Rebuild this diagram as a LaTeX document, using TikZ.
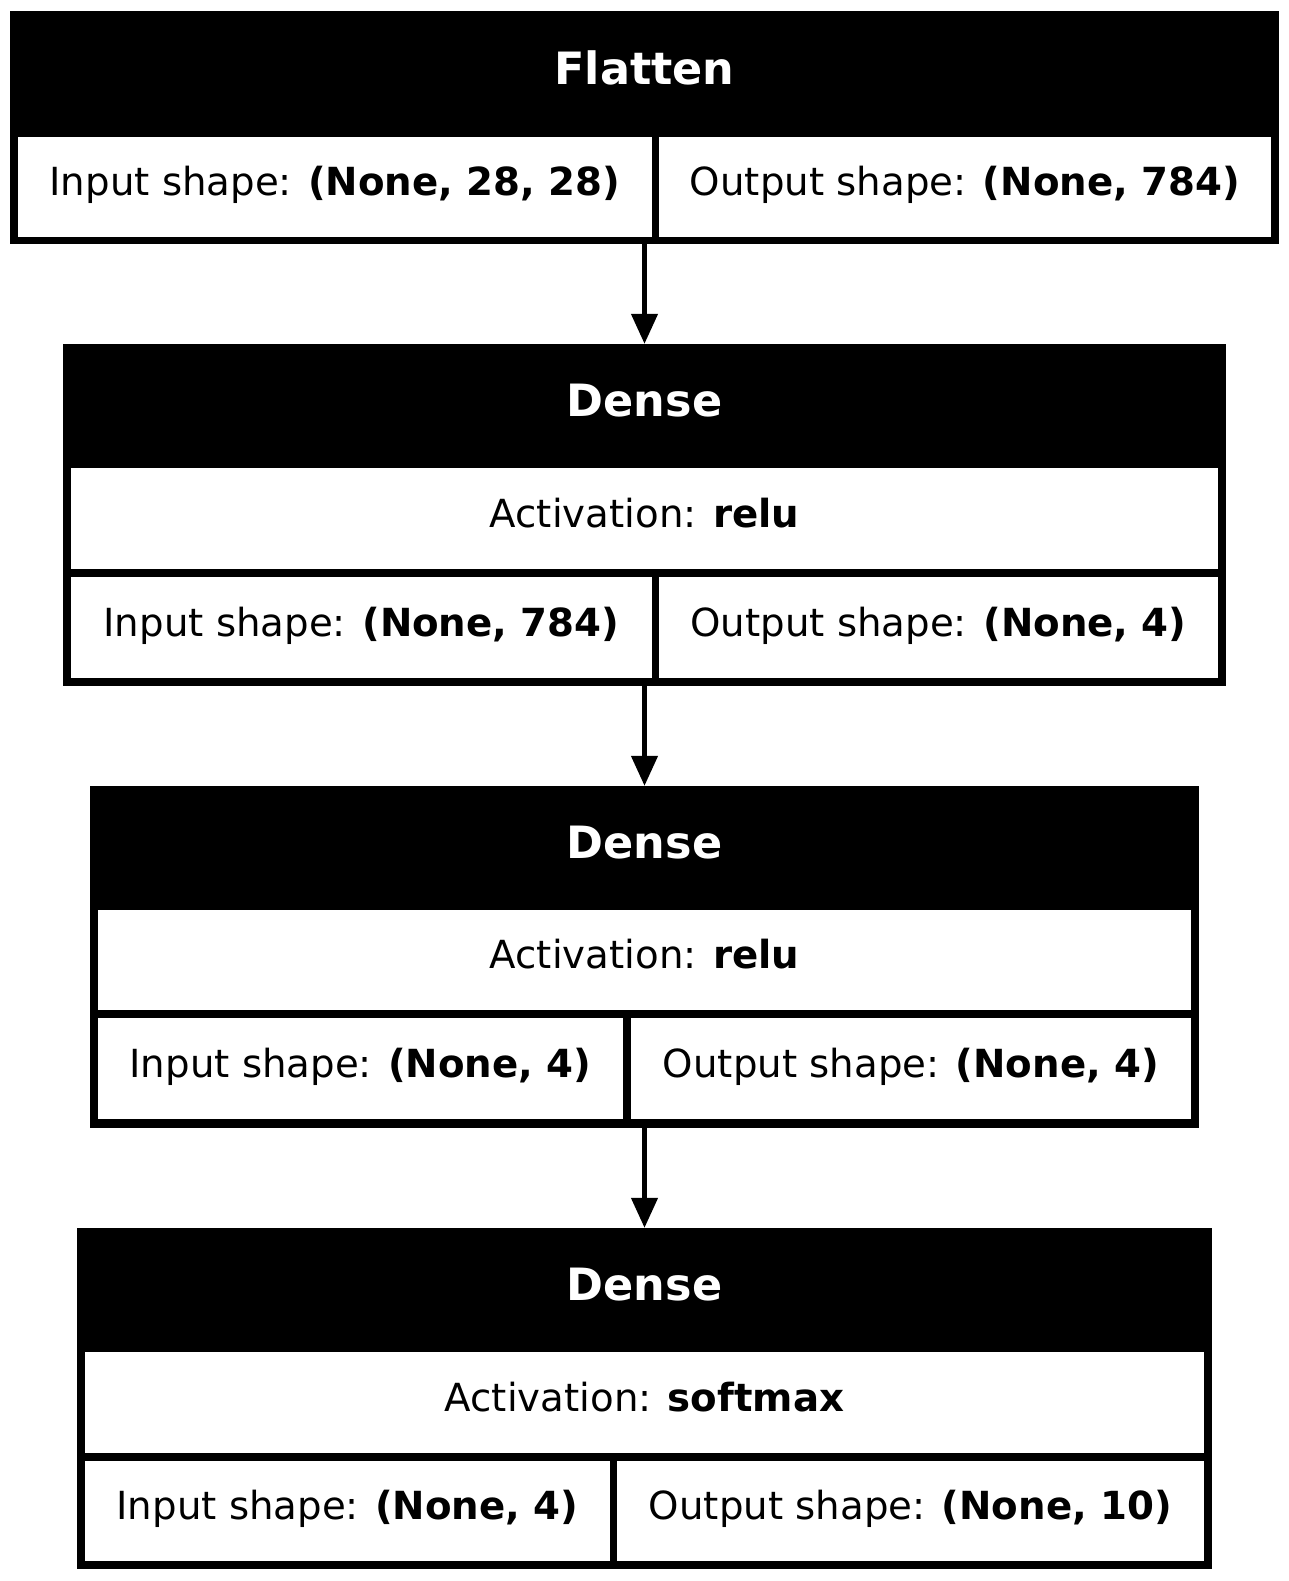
\documentclass[tikz,border=0pt]{standalone}
\usepackage{fontspec}
\setmainfont{DejaVu Sans}
\usetikzlibrary{arrows.meta}
\tikzset{
	frame/.style={rectangle,fill=black,inner sep=0pt},
	cell/.style={rectangle,fill=white,inner sep=0pt,
		font=\fontsize{38.7}{46}\selectfont,text height=30pt,text depth=12.8pt},
	ttl/.style={inner sep=0pt,text=white,
		font=\fontsize{44.5}{53}\selectfont\bfseries,text height=35pt,text depth=14pt},
	conn/.style={draw=black,line width=4.5pt,-{Triangle[length=30pt,width=26pt]}},
}
\begin{document}
\begin{tikzpicture}[x=1pt,y=-1pt]
	\useasboundingbox (0,0) rectangle (1289,1581);
	% Flatten
	\node[frame,minimum width=1269pt,minimum height=233pt] (flatten) at (644.5,127.5) {};
	\node[ttl] (flatten-ttl) at (644.5,74) {Flatten};
	\node[cell,minimum width=634pt,minimum height=100pt] (flatten-in) at (335,187)
		{Input shape: \textbf{(None, 28, 28)}};
	\node[cell,minimum width=612pt,minimum height=100pt] (flatten-out) at (965,187)
		{Output shape: \textbf{(None, 784)}};
	% Dense 1
	\node[frame,minimum width=1163pt,minimum height=342pt] (dense1) at (644.5,515) {};
	\node[ttl] (dense1-ttl) at (644.5,406) {Dense};
	\node[cell,minimum width=1147pt,minimum height=101pt] (dense1-act) at (644.5,518.5)
		{Activation: \textbf{relu}};
	\node[cell,minimum width=581pt,minimum height=101pt] (dense1-in) at (361.5,627.5)
		{Input shape: \textbf{(None, 784)}};
	\node[cell,minimum width=559pt,minimum height=101pt] (dense1-out) at (938.5,627.5)
		{Output shape: \textbf{(None, 4)}};
	% Dense 2
	\node[frame,minimum width=1109pt,minimum height=342pt] (dense2) at (644.5,957) {};
	\node[ttl] (dense2-ttl) at (644.5,848) {Dense};
	\node[cell,minimum width=1093pt,minimum height=100pt] (dense2-act) at (644.5,960)
		{Activation: \textbf{relu}};
	\node[cell,minimum width=525pt,minimum height=101pt] (dense2-in) at (360.5,1068.5)
		{Input shape: \textbf{(None, 4)}};
	\node[cell,minimum width=560pt,minimum height=101pt] (dense2-out) at (911,1068.5)
		{Output shape: \textbf{(None, 4)}};
	% Dense 3
	\node[frame,minimum width=1135pt,minimum height=341pt] (dense3) at (644.5,1398.5) {};
	\node[ttl] (dense3-ttl) at (644.5,1290) {Dense};
	\node[cell,minimum width=1119pt,minimum height=101pt] (dense3-act) at (644.5,1402.5)
		{Activation: \textbf{softmax}};
	\node[cell,minimum width=525pt,minimum height=100pt] (dense3-in) at (347.5,1511)
		{Input shape: \textbf{(None, 4)}};
	\node[cell,minimum width=587pt,minimum height=100pt] (dense3-out) at (910.5,1511)
		{Output shape: \textbf{(None, 10)}};
	% connectors
	\foreach \a/\b in {flatten/dense1,dense1/dense2,dense2/dense3}
	\draw[conn] (\a.south) -- (\b.north);
\end{tikzpicture}
\end{document}
